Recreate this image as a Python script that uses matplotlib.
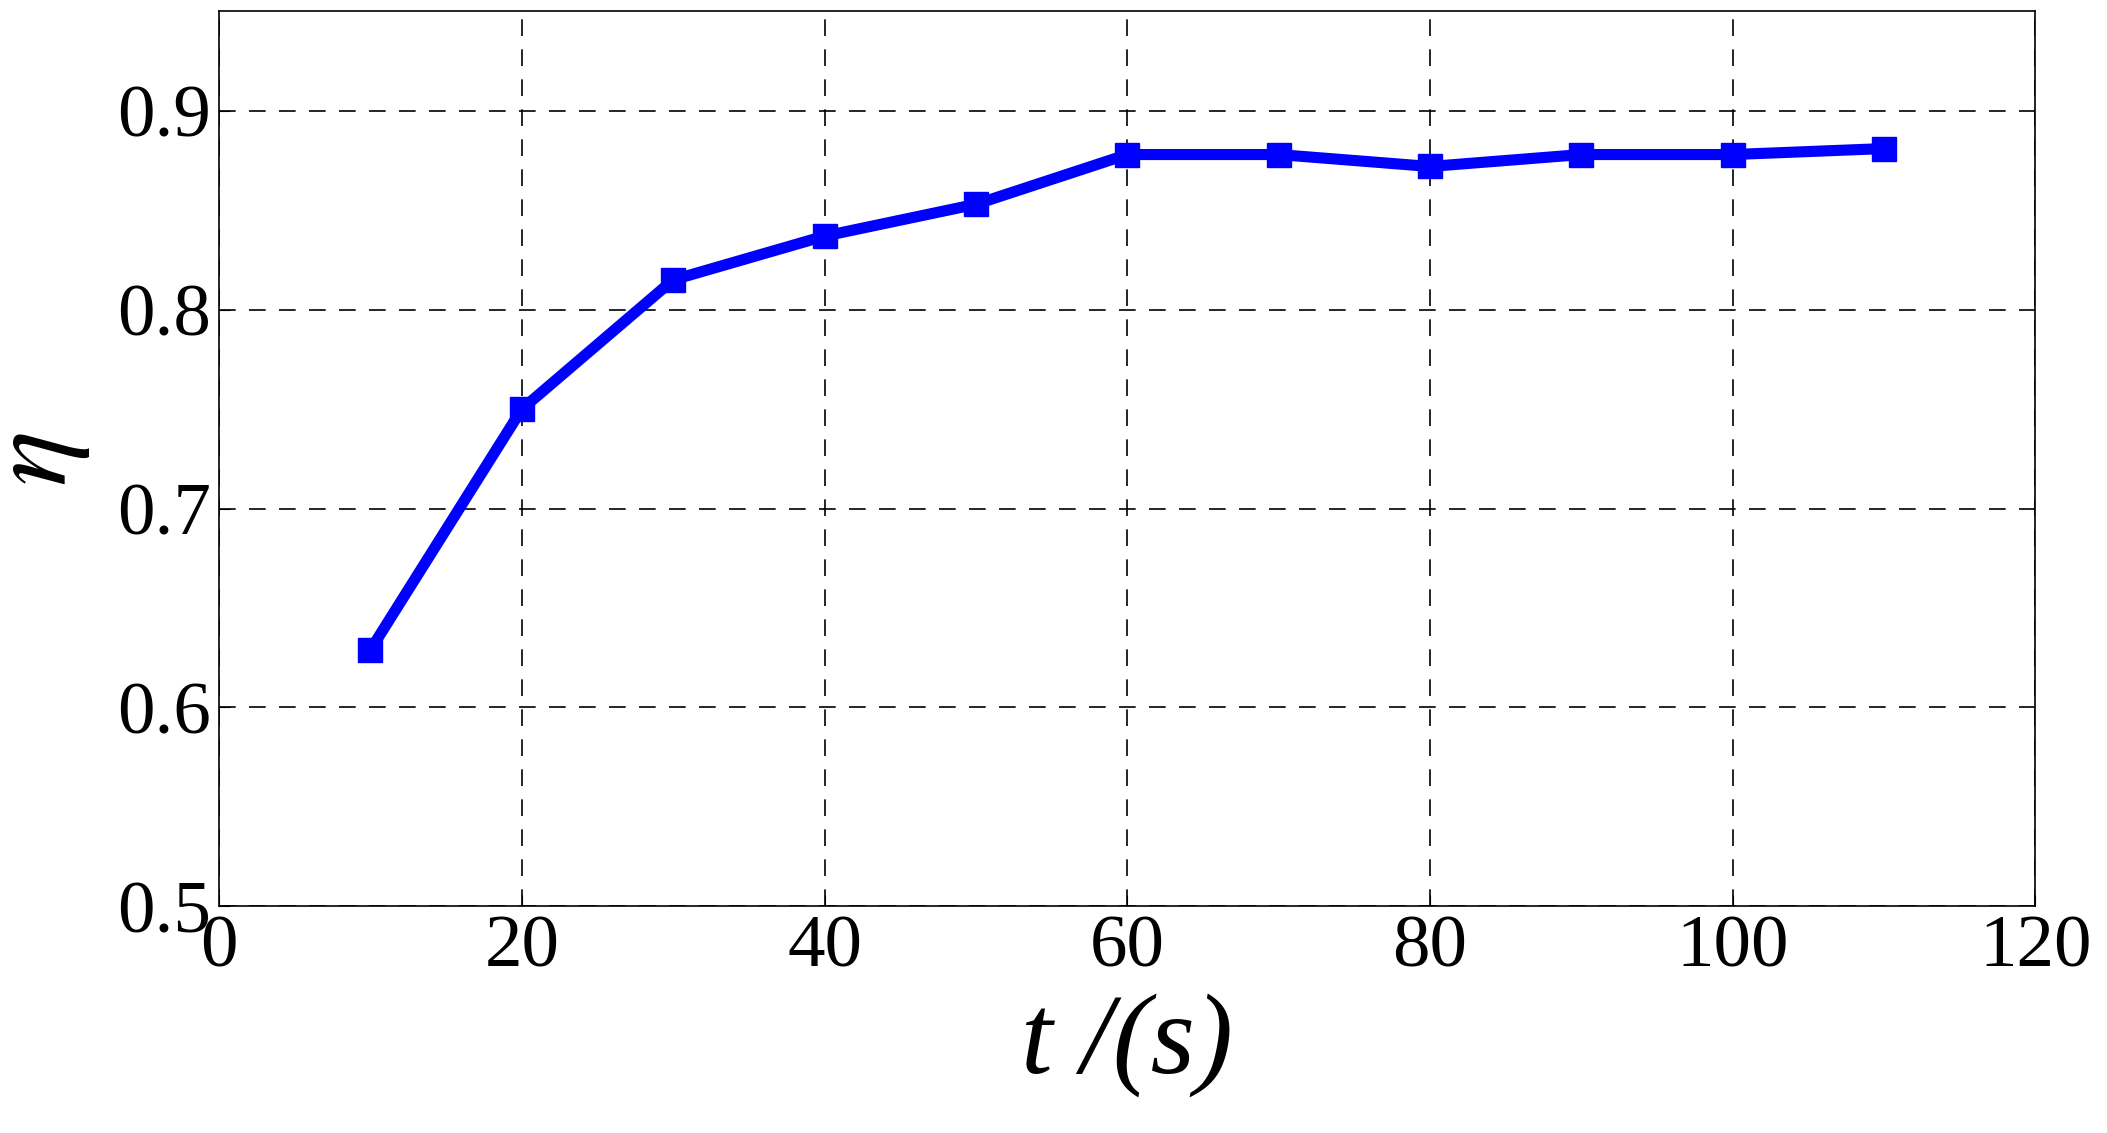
import matplotlib
matplotlib.use("Agg")
import matplotlib.pyplot as plt

t = [10, 20, 30, 40, 50, 60, 70, 80, 90, 100, 110]
eta = [0.629, 0.750, 0.815, 0.837, 0.853, 0.878, 0.878, 0.872, 0.878, 0.878, 0.881]
xticks = [0, 20, 40, 60, 80, 100, 120]
yticks = [0.5, 0.6, 0.7, 0.8, 0.9]

plt.rcParams['font.family'] = ['Liberation Serif', 'DejaVu Serif']
plt.rcParams['mathtext.fontset'] = 'stix'
fig = plt.figure(figsize=(21.07, 11.33), dpi=100)
ax = fig.add_axes([0.104, 0.20, 0.862, 0.79])
ax.plot(t, eta, color='#0000ff', lw=8, marker='s', ms=17)
ax.set_xlim(0, 120)
ax.set_ylim(0.5, 0.95)
ax.set_xticks(xticks)
ax.set_yticks(yticks)
ax.set_yticklabels([f"{v:.1f}" for v in yticks])
ax.tick_params(labelsize=54, direction='in', length=8, pad=6)
ax.grid(True, color='black', ls=(0, (10, 8)), lw=1.2)
for s in ax.spines.values():
    s.set_linewidth(1.2)
ax.set_xlabel('t /(s)', fontsize=82, style='italic', labelpad=8)
ax.set_ylabel(r'$\eta$', fontsize=84, labelpad=18)
fig.savefig("out.png", dpi=100)
